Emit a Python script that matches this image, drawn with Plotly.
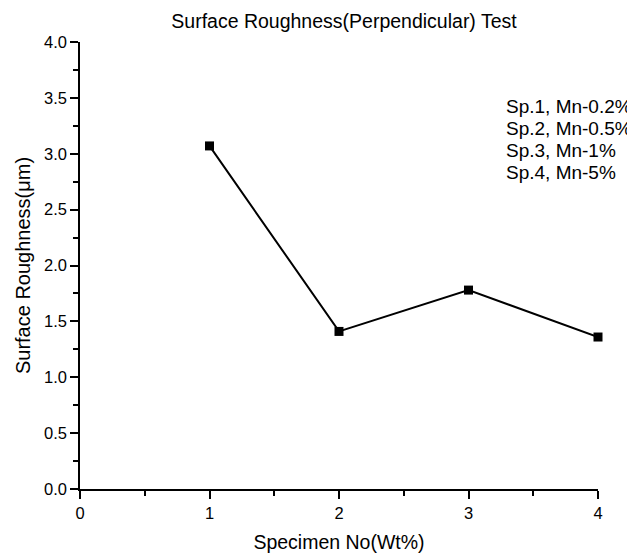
import plotly.graph_objects as go

specimen = [1, 2, 3, 4]
roughness = [3.07, 1.41, 1.78, 1.36]
legend_labels = ["Sp.1, Mn-0.2%", "Sp.2, Mn-0.5%", "Sp.3, Mn-1%", "Sp.4, Mn-5%"]
x_ticks = [0, 1, 2, 3, 4]
y_ticks = [0.0, 0.5, 1.0, 1.5, 2.0, 2.5, 3.0, 3.5, 4.0]

FONT = "Liberation Sans, Arial, sans-serif"

# page body has an 8px margin, so the figure is sized to the remaining area
W, H = 627, 545

fig = go.Figure()
fig.add_trace(go.Scatter(
    x=specimen, y=roughness, mode="lines+markers",
    line=dict(color="black", width=2),
    marker=dict(symbol="square", size=9, color="black"),
    showlegend=False, cliponaxis=False,
))

# legend-like text block
for i, lab in enumerate(legend_labels):
    fig.add_annotation(
        x=0.8185, y=3.421 - i * 0.197, xref="paper", yref="y",
        text=lab, showarrow=False, xanchor="left", yanchor="middle",
        font=dict(family=FONT, size=19, color="black"),
    )

axis_common = dict(
    showgrid=False, zeroline=False, showline=True, linecolor="black", linewidth=1.5,
    ticks="outside", ticklen=8, tickwidth=1.5, tickcolor="black", automargin=False,
    tickfont=dict(family=FONT, size=16.5, color="black"),
)

fig.update_xaxes(
    range=[0, 4], tickvals=x_ticks, ticktext=[str(v) for v in x_ticks],
    minor=dict(ticks="outside", dtick=0.5, tick0=0, ticklen=5, tickwidth=1.5, tickcolor="black"),
    title=dict(text="Specimen No(Wt%)", font=dict(family=FONT, size=19.5, color="black"), standoff=20),
    **axis_common,
)
fig.update_yaxes(
    range=[0, 4], tickvals=y_ticks, ticktext=[f"{v:.1f}" for v in y_ticks],
    minor=dict(ticks="outside", dtick=0.25, tick0=0, ticklen=5, tickwidth=1.5, tickcolor="black"),
    title=dict(text="Surface Roughness(μm)", font=dict(family=FONT, size=20, color="black"), standoff=8),
    **axis_common,
)

fig.update_layout(
    width=W, height=H,
    margin=dict(l=72, r=37, t=34, b=64, autoexpand=False),
    paper_bgcolor="white", plot_bgcolor="white",
    title=dict(text="Surface Roughness(Perpendicular) Test", x=336 / W, xanchor="center",
               y=1 - 13 / H, yanchor="middle",
               font=dict(family=FONT, size=19.5, color="black")),
)

fig.write_html("out.html")
